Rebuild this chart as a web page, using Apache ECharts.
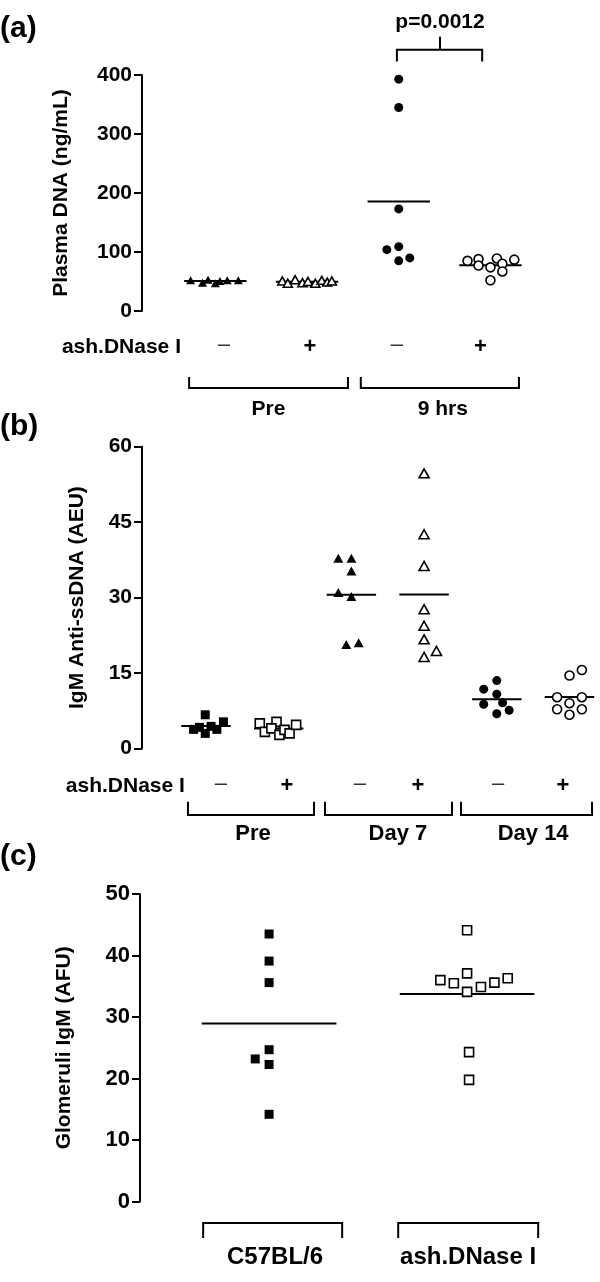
<!DOCTYPE html>
<html><head><meta charset="utf-8">
<script src="https://cdn.jsdelivr.net/npm/echarts@6/dist/echarts.min.js"></script>
<style>html,body{margin:0;padding:0;background:#fff}#c{width:600px;height:1282px}</style>
</head><body><div id="c"></div>
<script>
// ================= DATA =================
// Panel (a) Plasma DNA (ng/mL)
const aTicks = [0, 100, 200, 300, 400];
const aSigns = ['\u2013', '+', '\u2013', '+'];
const aPeriods = ['Pre', '9 hrs'];
const aPValue = 'p=0.0012';
const aPreMinus = [52, 48, 53, 47, 51, 52, 52];
const aPreMinusJit = [-0.27, -0.14, -0.08, 0, 0.05, 0.13, 0.25];
const aPrePlus = [51, 47, 53, 48, 50, 47, 52, 49, 51];
const aPrePlusJit = [-0.27, -0.21, -0.13, -0.05, 0.01, 0.09, 0.16, 0.22, 0.27];
const a9hMinus = [393, 345, 173, 109, 104, 85, 90];
const a9hMinusJit = [0, 0, 0, 0, -0.13, 0, 0.12];
const a9hPlus = [85, 88, 77, 74, 89, 80, 67, 87, 52];
const a9hPlusJit = [-0.25, -0.13, -0.13, 0, 0.07, 0.13, 0.13, 0.26, 0];

// Panel (b) IgM Anti-ssDNA (AEU)
const bTicks = [0, 15, 30, 45, 60];
const bSigns = ['\u2013', '+', '\u2013', '+', '\u2013', '+'];
const bPeriods = ['Pre', 'Day 7', 'Day 14'];
const bPreMinus = [6.7, 3.8, 3.0, 4.2, 3.8, 5.3, 4.4];
const bPreMinusJit = [-0.01, -0.17, -0.01, -0.09, 0.15, 0.24, 0.07];
const bPrePlus = [5.0, 3.3, 5.3, 4.0, 2.7, 3.7, 3.0, 4.7];
const bPrePlusJit = [-0.26, -0.19, -0.03, -0.10, 0.01, 0.08, 0.15, 0.24];
const bD7Minus = [37.8, 37.8, 35.3, 31.0, 30.2, 20.7, 21.0];
const bD7MinusJit = [-0.18, 0, 0, -0.18, 0, -0.07, 0.10];
const bD7Plus = [54.7, 42.6, 36.3, 27.7, 24.4, 21.7, 18.2, 19.4];
const bD7PlusJit = [0, 0, 0, 0, 0, 0, 0, 0.17];
const bD14Minus = [13.5, 11.8, 10.8, 8.8, 9.1, 7.6, 6.9];
const bD14MinusJit = [0, -0.18, 0, -0.18, 0.08, 0.17, 0];
const bD14Plus = [14.5, 15.6, 10.2, 10.2, 9.0, 7.8, 7.8, 6.7];
const bD14PlusJit = [0, 0.17, -0.17, 0.17, 0, -0.17, 0.17, 0];

// Panel (c) Glomeruli IgM (AFU)
const cTicks = [0, 10, 20, 30, 40, 50];
const cGroups = ['C57BL/6', 'ash.DNase I'];
const cC57 = [43.5, 39.1, 35.6, 24.7, 23.2, 22.3, 14.2];
const cC57Jit = [0, 0, 0, 0, -0.07, 0, 0];
const cAsh = [44.1, 36.0, 35.5, 37.1, 34.1, 34.9, 35.6, 36.3, 24.3, 19.8];
const cAshJit = [0, -0.135, -0.067, 0, 0, 0.07, 0.138, 0.205, 0.01, 0.01];

// ================= RENDER =================
const FONT = "'Liberation Sans', Arial, Helvetica, sans-serif";
const BLACK = '#000';
const chart = echarts.init(document.getElementById('c'), null, {renderer: 'canvas'});

function mean(a) { return a.reduce((s, v) => s + v, 0) / a.length; }
function pts(g, vals, jit) { return vals.map((v, i) => [g + jit[i], v]); }

function scatter(gi, g, vals, jit, symbol, filled, size) {
  return {
    type: 'scatter', xAxisIndex: gi, yAxisIndex: gi, data: pts(g, vals, jit),
    symbol: symbol, symbolSize: size, z: 3, silent: true, animation: false,
    itemStyle: filled ? {color: BLACK, borderWidth: 0, opacity: 1}
                      : {color: '#fff', borderColor: BLACK, borderWidth: 1.6, opacity: 1},
    emphasis: {disabled: true}
  };
}
function meanLines(gi, groups) {
  return {
    type: 'custom', xAxisIndex: gi, yAxisIndex: gi, z: 2, silent: true, animation: false,
    data: groups.map((vals, g) => [g, mean(vals)]),
    renderItem(params, api) {
      const g = api.value(0), m = api.value(1);
      const p1 = api.coord([g - 0.34, m]), p2 = api.coord([g + 0.34, m]);
      return {type: 'line', shape: {x1: p1[0], y1: p1[1], x2: p2[0], y2: p2[1]},
              style: {stroke: BLACK, lineWidth: 2}};
    }
  };
}
function annot(gi, build) {
  return {
    type: 'custom', xAxisIndex: gi, yAxisIndex: gi, z: 4, silent: true, clip: false, animation: false,
    data: [[0, 0]],
    renderItem(params, api) {
      const c = (x, y) => api.coord([x, y]);
      return {type: 'group', children: build(c)};
    }
  };
}
function txt(p, text, size, weight, align, color) {
  return {type: 'text', style: {text: text, x: p[0], y: p[1], font: (weight || 'bold') + ' ' + size + 'px ' + FONT,
          fill: color || BLACK, align: align || 'center', verticalAlign: 'middle'}};
}
function bracket(c, x1, x2, yBase, yEnd) {
  return {type: 'polyline', shape: {points: [c(x1, yEnd), c(x1, yBase), c(x2, yBase), c(x2, yEnd)]},
          style: {stroke: BLACK, lineWidth: 2, fill: null}};
}
function signEl(p, s) {
  return s === '+' ? txt(p, s, 22, 'bold') : txt([p[0], p[1] - 2], s, 22, 'normal', 'center', '#333');
}
function yAx(gi, ticks, name, gap, size) {
  return {
    type: 'value', gridIndex: gi, min: ticks[0], max: ticks[ticks.length - 1], interval: ticks[1] - ticks[0],
    axisLine: {show: true, onZero: false, lineStyle: {color: BLACK, width: 2}},
    axisTick: {show: true, length: 8, lineStyle: {color: BLACK, width: 2}},
    axisLabel: {fontSize: size, fontWeight: 'bold', color: BLACK, fontFamily: FONT, margin: 10},
    splitLine: {show: false},
    name: name, nameLocation: 'middle', nameRotate: 90, nameGap: gap,
    nameTextStyle: {fontSize: 21, fontWeight: 'bold', color: BLACK, fontFamily: FONT}
  };
}

// Panel (a) layout
const annA = annot(0, c => {
  const els = [];
  els.push(txt(c(-0.375, -62), 'ash.DNase I', 21, 'bold', 'right'));
  const signX = [0.094, 1.03, 1.98, 2.89];
  aSigns.forEach((s, i) => els.push(signEl(c(signX[i], -61), s)));
  const br = [[-0.286, 1.446], [1.586, 3.311]];
  br.forEach((b, i) => {
    els.push(bracket(c, b[0], b[1], -130.7, -112));
    els.push(txt(c(i === 0 ? 0.58 : 2.48, -166), aPeriods[i], 21, 'bold'));
  });
  // significance bracket
  els.push(bracket(c, 1.98, 2.91, 443, 423));
  const t1 = c(2.45, 443), t2 = c(2.45, 465);
  els.push({type: 'line', shape: {x1: t1[0], y1: t1[1], x2: t2[0], y2: t2[1]}, style: {stroke: BLACK, lineWidth: 2}});
  els.push(txt(c(2.45, 490), aPValue, 21, 'bold'));
  return els;
});
// Panel (b) layout
const annB = annot(1, c => {
  const els = [];
  els.push(txt(c(-0.29, -7.45), 'ash.DNase I', 21, 'bold', 'right'));
  const signX = [0.206, 1.114, 2.118, 2.916, 4.017, 4.91];
  bSigns.forEach((s, i) => els.push(signEl(c(signX[i], -7.45), s)));
  const br = [[-0.248, 1.486], [1.637, 3.384], [3.508, 5.31]];
  const lx = [0.646, 2.64, 4.5];
  br.forEach((b, i) => {
    els.push(bracket(c, b[0], b[1], -13.2, -10.6));
    els.push(txt(c(lx[i], -17.0), bPeriods[i], 22, 'bold'));
  });
  return els;
});
// Panel (c) layout
const annC = annot(2, c => {
  const els = [];
  const br = [[-0.333, 0.369], [0.652, 1.359]];
  const lx = [0.03, 1.005];
  br.forEach((b, i) => {
    els.push(bracket(c, b[0], b[1], -3.46, -5.9));
    els.push(txt(c(lx[i], -9.0), cGroups[i], 24, 'bold'));
  });
  return els;
});

const option = {
  animation: false,
  backgroundColor: '#fff',
  grid: [
    {left: 142, top: 75, width: 421.8, height: 236},
    {left: 142, top: 446.7, width: 449.3, height: 301.8},
    {left: 140, top: 894, width: 445.9, height: 307.7}
  ],
  xAxis: [
    {type: 'value', gridIndex: 0, min: -0.8, max: 3.8, show: false},
    {type: 'value', gridIndex: 1, min: -0.88, max: 5.3, show: false},
    {type: 'value', gridIndex: 2, min: -0.652, max: 1.6, show: false}
  ],
  yAxis: [
    yAx(0, aTicks, 'Plasma DNA (ng/mL)', 70, 21),
    yAx(1, bTicks, 'IgM Anti-ssDNA (AEU)', 54, 21),
    yAx(2, cTicks, 'Glomeruli IgM (AFU)', 65, 22)
  ],
  graphic: [
    {type: 'text', left: 0, top: 14, style: {text: '(a)', font: 'bold 30px ' + FONT, fill: BLACK}},
    {type: 'text', left: 0, top: 412, style: {text: '(b)', font: 'bold 30px ' + FONT, fill: BLACK}},
    {type: 'text', left: 0, top: 842, style: {text: '(c)', font: 'bold 30px ' + FONT, fill: BLACK}}
  ],
  series: [
    meanLines(0, [aPreMinus, aPrePlus, a9hMinus, a9hPlus]),
    scatter(0, 0, aPreMinus, aPreMinusJit, 'triangle', true, [9, 8]),
    scatter(0, 1, aPrePlus, aPrePlusJit, 'triangle', false, [9, 8]),
    scatter(0, 2, a9hMinus, a9hMinusJit, 'circle', true, 9),
    scatter(0, 3, a9hPlus, a9hPlusJit, 'circle', false, 9),
    annA,
    meanLines(1, [bPreMinus, bPrePlus, bD7Minus, bD7Plus, bD14Minus, bD14Plus]),
    scatter(1, 0, bPreMinus, bPreMinusJit, 'rect', true, 9),
    scatter(1, 1, bPrePlus, bPrePlusJit, 'rect', false, 9),
    scatter(1, 2, bD7Minus, bD7MinusJit, 'triangle', true, [10, 9]),
    scatter(1, 3, bD7Plus, bD7PlusJit, 'triangle', false, [10, 9]),
    scatter(1, 4, bD14Minus, bD14MinusJit, 'circle', true, 9),
    scatter(1, 5, bD14Plus, bD14PlusJit, 'circle', false, 9),
    annB,
    meanLines(2, [cC57, cAsh]),
    scatter(2, 0, cC57, cC57Jit, 'rect', true, 9),
    scatter(2, 1, cAsh, cAshJit, 'rect', false, 9),
    annC
  ]
};
chart.setOption(option);
</script>
</body></html>
